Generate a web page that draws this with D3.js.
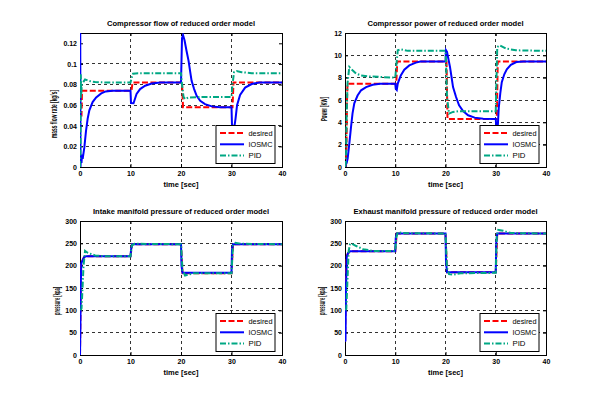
<!DOCTYPE html>
<html><head><meta charset="utf-8">
<script src="https://cdn.jsdelivr.net/npm/d3@7"></script>
<style>body{margin:0;background:#fff}svg{display:block}text{font-family:"Liberation Sans",Arial,sans-serif;fill:#000;font-weight:bold}</style>
</head><body><svg id="c" width="606" height="402"></svg>
<script>
// ---------- data ----------
const xTicks = [0, 10, 20, 30, 40];
const legendLabels = ["desired", "IOSMC", "PID"];
const seriesColors = ["#ff0000", "#0000ff", "#00a884"];

const flowTicks = [0, 0.02, 0.04, 0.06, 0.08, 0.1, 0.12];
const flowDesired = [[0,0.05],[0.3,0.05],[0.4,0.074],[10,0.074],[10.2,0.074],[10.4,0.082],[20,0.082],[20.2,0.082],[20.4,0.058],[30,0.058],[30.2,0.058],[30.4,0.082],[40,0.082]];
const flowIOSMC = [[0,0.13],[0.05,0.13],[0.1,0.0],[0.2,0.012],[0.3,0.004],[0.4,0.012],[0.53,0.008],[0.86,0.019],[1.19,0.035],[1.52,0.047],[1.85,0.055],[2.5,0.063],[3.2,0.0675],[4.2,0.0714],[5.1,0.0733],[6.4,0.074],[10,0.074],[10.1,0.062],[10.6,0.0618],[11.2,0.0708],[11.9,0.0756],[12.9,0.0788],[14.2,0.081],[15.9,0.082],[20,0.082],[20.2,0.125],[20.4,0.128],[20.7,0.123],[21.1,0.1125],[21.5,0.103],[21.8,0.093],[22.1,0.0836],[22.6,0.0756],[23.1,0.069],[23.8,0.0643],[24.75,0.061],[26.1,0.0588],[27.7,0.058],[30,0.058],[30.1,0.040],[30.6,0.040],[30.8,0.047],[31.1,0.060],[31.7,0.070],[32.7,0.077],[34,0.0805],[35.5,0.082],[40,0.082]];
const flowPID = [[0,0.0],[0.1,0.02],[0.15,0.09],[0.25,0.07],[0.35,0.08],[0.6,0.082],[1.0,0.085],[1.5,0.084],[2.2,0.083],[3,0.0825],[5,0.082],[10,0.082],[10.2,0.086],[10.5,0.0905],[11.5,0.091],[20,0.091],[20.2,0.08],[20.5,0.068],[20.8,0.066],[21.5,0.0675],[25,0.068],[30,0.068],[30.2,0.08],[30.5,0.092],[31,0.093],[32,0.092],[34,0.091],[40,0.091]];

const powerTicks = [0, 2, 4, 6, 8, 10, 12];
const powerDesired = [[0,0],[0.2,0],[0.3,2],[0.4,6],[0.5,7.45],[10,7.45],[10.2,7.45],[10.4,9.45],[20,9.45],[20.2,9.45],[20.4,4.3],[30,4.3],[30.2,4.3],[30.4,9.45],[40,9.45]];
const powerIOSMC = [[0,0],[0.1,0],[0.2,0.5],[0.3,0.3],[0.53,0.75],[0.86,2.1],[1.2,3.6],[1.5,4.8],[1.85,5.7],[2.5,6.4],[3.2,6.87],[4.2,7.16],[5.5,7.37],[7,7.45],[10,7.45],[10.1,7.0],[10.3,6.9],[10.5,7.47],[11.1,8.2],[11.8,8.72],[12.8,9.1],[14.1,9.35],[15,9.45],[20,9.45],[20.1,10.45],[20.3,10.3],[20.5,9.85],[20.9,8.95],[21.2,8.06],[21.5,7.16],[22.1,6.27],[22.7,5.52],[23.5,5.01],[24.5,4.63],[25.8,4.42],[27.5,4.33],[30,4.3],[30.1,3.6],[30.4,3.6],[30.6,5.3],[30.9,6.6],[31.2,7.6],[31.7,8.3],[32.2,8.75],[33,9.15],[34.1,9.4],[35.5,9.45],[40,9.45]];
const powerPID = [[0,0],[0.2,0.5],[0.3,4],[0.5,7.5],[0.86,8.95],[1.5,8.66],[2.2,8.36],[3.2,8.2],[4.5,8.12],[7.2,8.06],[10,8.0],[10.2,9],[10.5,10.45],[11.1,10.54],[12.5,10.4],[20,10.4],[20.1,9.5],[20.3,6.27],[20.7,4.78],[21.5,4.93],[22.5,5.0],[30,5.0],[30.1,7],[30.3,10.74],[30.8,10.9],[32.1,10.6],[34,10.45],[40,10.4]];

const pressureTicks = [0, 50, 100, 150, 200, 250, 300];
const intakeDesired = [[0,0],[0.1,100],[0.2,200],[0.5,212],[0.8,219],[1.2,221],[10,221],[10.3,248],[20,248],[20.3,183],[30,183],[30.3,248],[40,248]];
const intakeIOSMC = [[0,0],[0.08,60],[0.15,150],[0.25,205],[0.5,212],[0.8,219],[1.2,221],[10,221],[10.1,235],[10.3,248],[20,248],[20.1,200],[20.3,184],[30,184],[30.1,235],[30.3,248],[40,248]];
const intakePID = [[0.1,100],[0.3,104],[0.5,150],[0.7,200],[1.0,233],[1.5,229],[2.2,226],[3,223],[5,221],[10,221],[10.3,246],[10.8,249],[20,248],[20.3,190],[20.8,178],[21.5,180],[22.5,183],[30,183],[30.3,245],[30.8,251],[32,249],[40,248]];

const exhaustDesired = [[0,30],[0.15,150],[0.3,220],[0.6,228],[1,232],[10,232],[10.3,272],[20,272],[20.3,185],[30,185],[30.3,272],[40,272]];
const exhaustIOSMC = [[0,30],[0.1,32],[0.2,150],[0.35,220],[0.6,228],[1,232],[10,232],[10.1,262],[10.3,272],[20,272],[20.1,210],[20.3,185],[30,185],[30.1,250],[30.3,272],[40,272]];
const exhaustPID = [[0.1,100],[0.26,103],[0.46,159],[0.73,233],[1.0,248],[1.26,250],[2.25,244],[3.6,237],[5.6,233],[10,233],[10.2,262],[10.5,275],[11.5,273],[20,272],[20.3,195],[20.7,181],[21.5,180],[23,183],[30,184],[30.2,265],[30.5,280],[31.5,278],[33,273],[40,272]];

// ---------- layout ----------
const panels = [
  {title:"Compressor flow of reduced order model", titleW:148, ylabel:"mass flow rate [kg/s]", ylabW:48, ylabX:53.5, ylabY:114,
   x0:80, x1:282, y0:33, y1:167, ymax:0.13, ticks:flowTicks, series:[flowDesired, flowIOSMC, flowPID]},
  {title:"Compressor power of reduced order model", titleW:156, ylabel:"Power [KW]", ylabW:24, ylabX:323.5, ylabY:109,
   x0:345, x1:546, y0:33, y1:167, ymax:12, ticks:powerTicks, series:[powerDesired, powerIOSMC, powerPID]},
  {title:"Intake manifold pressure of reduced order model", titleW:176, ylabel:"pressure [kpa]", ylabW:28, ylabX:56.5, ylabY:301,
   x0:80, x1:282, y0:221, y1:355, ymax:300, ticks:pressureTicks, series:[intakeDesired, intakeIOSMC, intakePID]},
  {title:"Exhaust manifold pressure of reduced order model", titleW:184, ylabel:"pressure [kpa]", ylabW:28, ylabX:321.5, ylabY:301,
   x0:345, x1:546, y0:221, y1:355, ymax:300, ticks:pressureTicks, series:[exhaustDesired, exhaustIOSMC, exhaustPID]}
];
const dashes = ["6,2.5", null, "6,2,1.5,2"];

const svg = d3.select("#c");
svg.append("rect").attr("width",606).attr("height",402).attr("fill","#fff");

panels.forEach((p, i) => {
  const x = d3.scaleLinear().domain([0, 40]).range([p.x0, p.x1]);
  const y = d3.scaleLinear().domain([0, p.ymax]).range([p.y1, p.y0]);
  const g = svg.append("g");
  const cid = "clip" + i;
  svg.append("clipPath").attr("id", cid).append("rect")
    .attr("x", p.x0).attr("y", p.y0).attr("width", p.x1 - p.x0).attr("height", p.y1 - p.y0);

  // grid
  const grid = g.append("g").attr("stroke", "#000").attr("stroke-width", 0.8).attr("stroke-dasharray", "3,3");
  xTicks.slice(1, -1).forEach(t => grid.append("line").attr("x1", x(t)).attr("x2", x(t)).attr("y1", p.y0).attr("y2", p.y1).attr("shape-rendering","crispEdges"));
  p.ticks.slice(1, -1).forEach(t => grid.append("line").attr("y1", y(t)).attr("y2", y(t)).attr("x1", p.x0).attr("x2", p.x1).attr("shape-rendering","crispEdges"));

  // axes with inward ticks
  const fmt = d => String(+d.toFixed(2));
  const ax = g.append("g").attr("transform", `translate(0,${p.y1})`)
    .call(d3.axisBottom(x).tickValues(xTicks).tickSize(-3).tickPadding(4).tickFormat(fmt));
  const ay = g.append("g").attr("transform", `translate(${p.x0},0)`)
    .call(d3.axisLeft(y).tickValues(p.ticks).tickSize(-3).tickPadding(3).tickFormat(fmt));
  const axT = g.append("g").attr("transform", `translate(0,${p.y0})`)
    .call(d3.axisTop(x).tickValues(xTicks).tickSize(-3).tickFormat(""));
  const ayR = g.append("g").attr("transform", `translate(${p.x1},0)`)
    .call(d3.axisRight(y).tickValues(p.ticks).tickSize(-3).tickFormat(""));
  [ax, ay, axT, ayR].forEach(a => {
    a.select(".domain").remove();
    a.selectAll("line").attr("stroke", "#000");
    a.selectAll("text").attr("font-size", 7).attr("fill", "#000").attr("font-weight", "bold")
      .attr("font-family", '"Liberation Sans",Arial,sans-serif');
  });
  g.append("rect").attr("x", p.x0).attr("y", p.y0).attr("width", p.x1 - p.x0).attr("height", p.y1 - p.y0)
    .attr("fill", "none").attr("stroke", "#000").attr("stroke-width", 1).attr("shape-rendering","crispEdges");

  // series
  const line = d3.line().x(d => x(d[0])).y(d => y(d[1]));
  const sg = g.append("g").attr("clip-path", `url(#${cid})`);
  p.series.forEach((s, k) => {
    sg.append("path").datum(s).attr("d", line).attr("fill", "none")
      .attr("stroke", seriesColors[k]).attr("stroke-width", 2)
      .attr("stroke-dasharray", dashes[k]);
  });

  // title and labels
  g.append("text").attr("x", (p.x0 + p.x1) / 2).attr("y", p.y0 - 7).attr("text-anchor", "middle")
    .attr("font-size", 8).attr("textLength", p.titleW).attr("lengthAdjust", "spacingAndGlyphs").text(p.title);
  g.append("text").attr("x", (p.x0 + p.x1) / 2).attr("y", p.y1 + 19.5).attr("text-anchor", "middle")
    .attr("font-size", 8).attr("textLength", 35).attr("lengthAdjust", "spacingAndGlyphs").text("time [sec]");
  g.append("text").attr("transform", `translate(${p.ylabX + 3},${p.ylabY}) rotate(-90)`).attr("text-anchor", "middle")
    .attr("font-size", 8.5).attr("textLength", p.ylabW).attr("lengthAdjust", "spacingAndGlyphs").text(p.ylabel);

  // legend
  const lw = 59, lh = 38;
  const lx = p.x1 - 7 - lw, ly = p.y1 - 3.5 - lh;
  const lg = g.append("g");
  lg.append("rect").attr("x", lx).attr("y", ly).attr("width", lw).attr("height", lh)
    .attr("fill", "#fff").attr("stroke", "#000").attr("stroke-width", 1);
  legendLabels.forEach((lab, k) => {
    const yy = ly + 7.5 + k * 11.3;
    lg.append("line").attr("x1", lx + 4).attr("x2", lx + 28).attr("y1", yy).attr("y2", yy)
      .attr("stroke", seriesColors[k]).attr("stroke-width", 2).attr("stroke-dasharray", dashes[k]);
    lg.append("text").attr("x", lx + 32.5).attr("y", yy + 2.5).attr("font-size", 7.5)
      .style("font-weight", "normal").attr("textLength", [24, 24, 13][k]).attr("lengthAdjust", "spacingAndGlyphs").text(lab);
  });
});
</script></body></html>
